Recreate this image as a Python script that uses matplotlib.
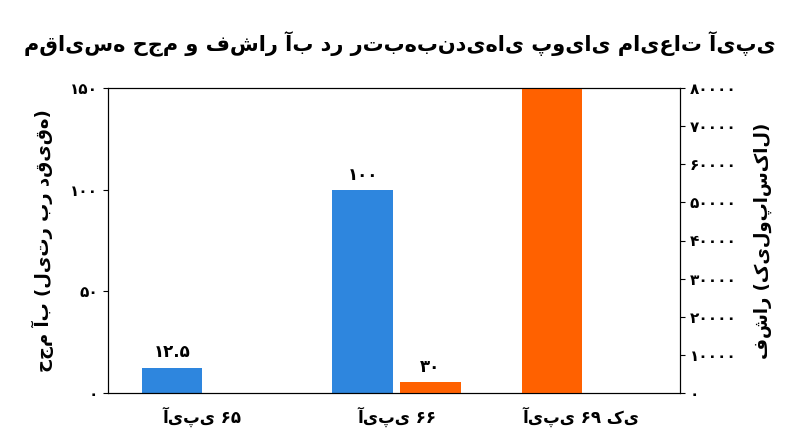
import matplotlib
matplotlib.use("Agg")
import matplotlib.pyplot as plt
import numpy as np

plt.rcParams['font.family'] = ['DejaVu Sans']
plt.rcParams['font.weight'] = 'bold'

categories = ["آی‌پی ۶۵", "آی‌پی ۶۶", "آی‌پی ۶۹ کی"]
volume = [12.5, 100, 0]
volume_labels = ["۱۲.۵", "۱۰۰", ""]
pressure = [0, 3000, 80000]
pressure_labels = ["", "۳۰", ""]
left_ticks = [0, 50, 100, 150]
left_tick_labels = ["۰", "۵۰", "۱۰۰", "۱۵۰"]
right_ticks = [0, 10000, 20000, 30000, 40000, 50000, 60000, 70000, 80000]
right_tick_labels = ["۰", "۱۰۰۰۰", "۲۰۰۰۰", "۳۰۰۰۰", "۴۰۰۰۰", "۵۰۰۰۰", "۶۰۰۰۰", "۷۰۰۰۰", "۸۰۰۰۰"]
title = "مقایسه حجم و فشار آب در رتبه‌بندی‌های پویای مایعات آی‌پی"
ylabel_left = "حجم آب (لیتر بر دقیقه)"
ylabel_right = "فشار (کیلوپاسکال)"

fig = plt.figure(figsize=(8, 4.47), dpi=100)
ax = fig.add_axes([108/800, 1-393/447, 572/800, 305/447])
ax2 = ax.twinx()
x = np.array([0, 1, 1.95])
w = 0.31
blue_off = np.array([-0.155, -0.175, -0.175])
orange_off = np.array([0.175, 0.175, -0.15])
b1 = ax.bar(x + blue_off, volume, w, color='#2e86de')
b2 = ax2.bar(x + orange_off, pressure, w, color='#ff6100')
for r, l in zip(b1, volume_labels):
    if l:
        ax.text(r.get_x()+r.get_width()/2, r.get_height()+3, l, ha='center', va='bottom', fontsize=12, fontweight='bold')
for r, l in zip(b2, pressure_labels):
    if l:
        ax2.text(r.get_x()+r.get_width()/2, r.get_height()+1500, l, ha='center', va='bottom', fontsize=12, fontweight='bold')
ax.set_xlim(-0.485, 2.46)
ax.set_ylim(0, 150)
ax2.set_ylim(0, 80000)
ax.set_xticks(x)
ax.set_xticklabels(categories, fontsize=12, fontweight='bold')
ax.set_yticks(left_ticks)
ax.set_yticklabels(left_tick_labels, fontsize=11, fontweight='bold')
ax2.set_yticks(right_ticks)
ax2.set_yticklabels(right_tick_labels, fontsize=11, fontweight='bold')
ax.set_ylabel(ylabel_left, fontsize=13, fontweight='bold', labelpad=12)
ax2.set_ylabel(ylabel_right, fontsize=13, fontweight='bold', labelpad=12, rotation=90)
ax.tick_params(axis='x', length=0, pad=10)
fig.suptitle(title, fontsize=15, fontweight='bold', y=0.93)
fig.savefig("out.png", dpi=100)
